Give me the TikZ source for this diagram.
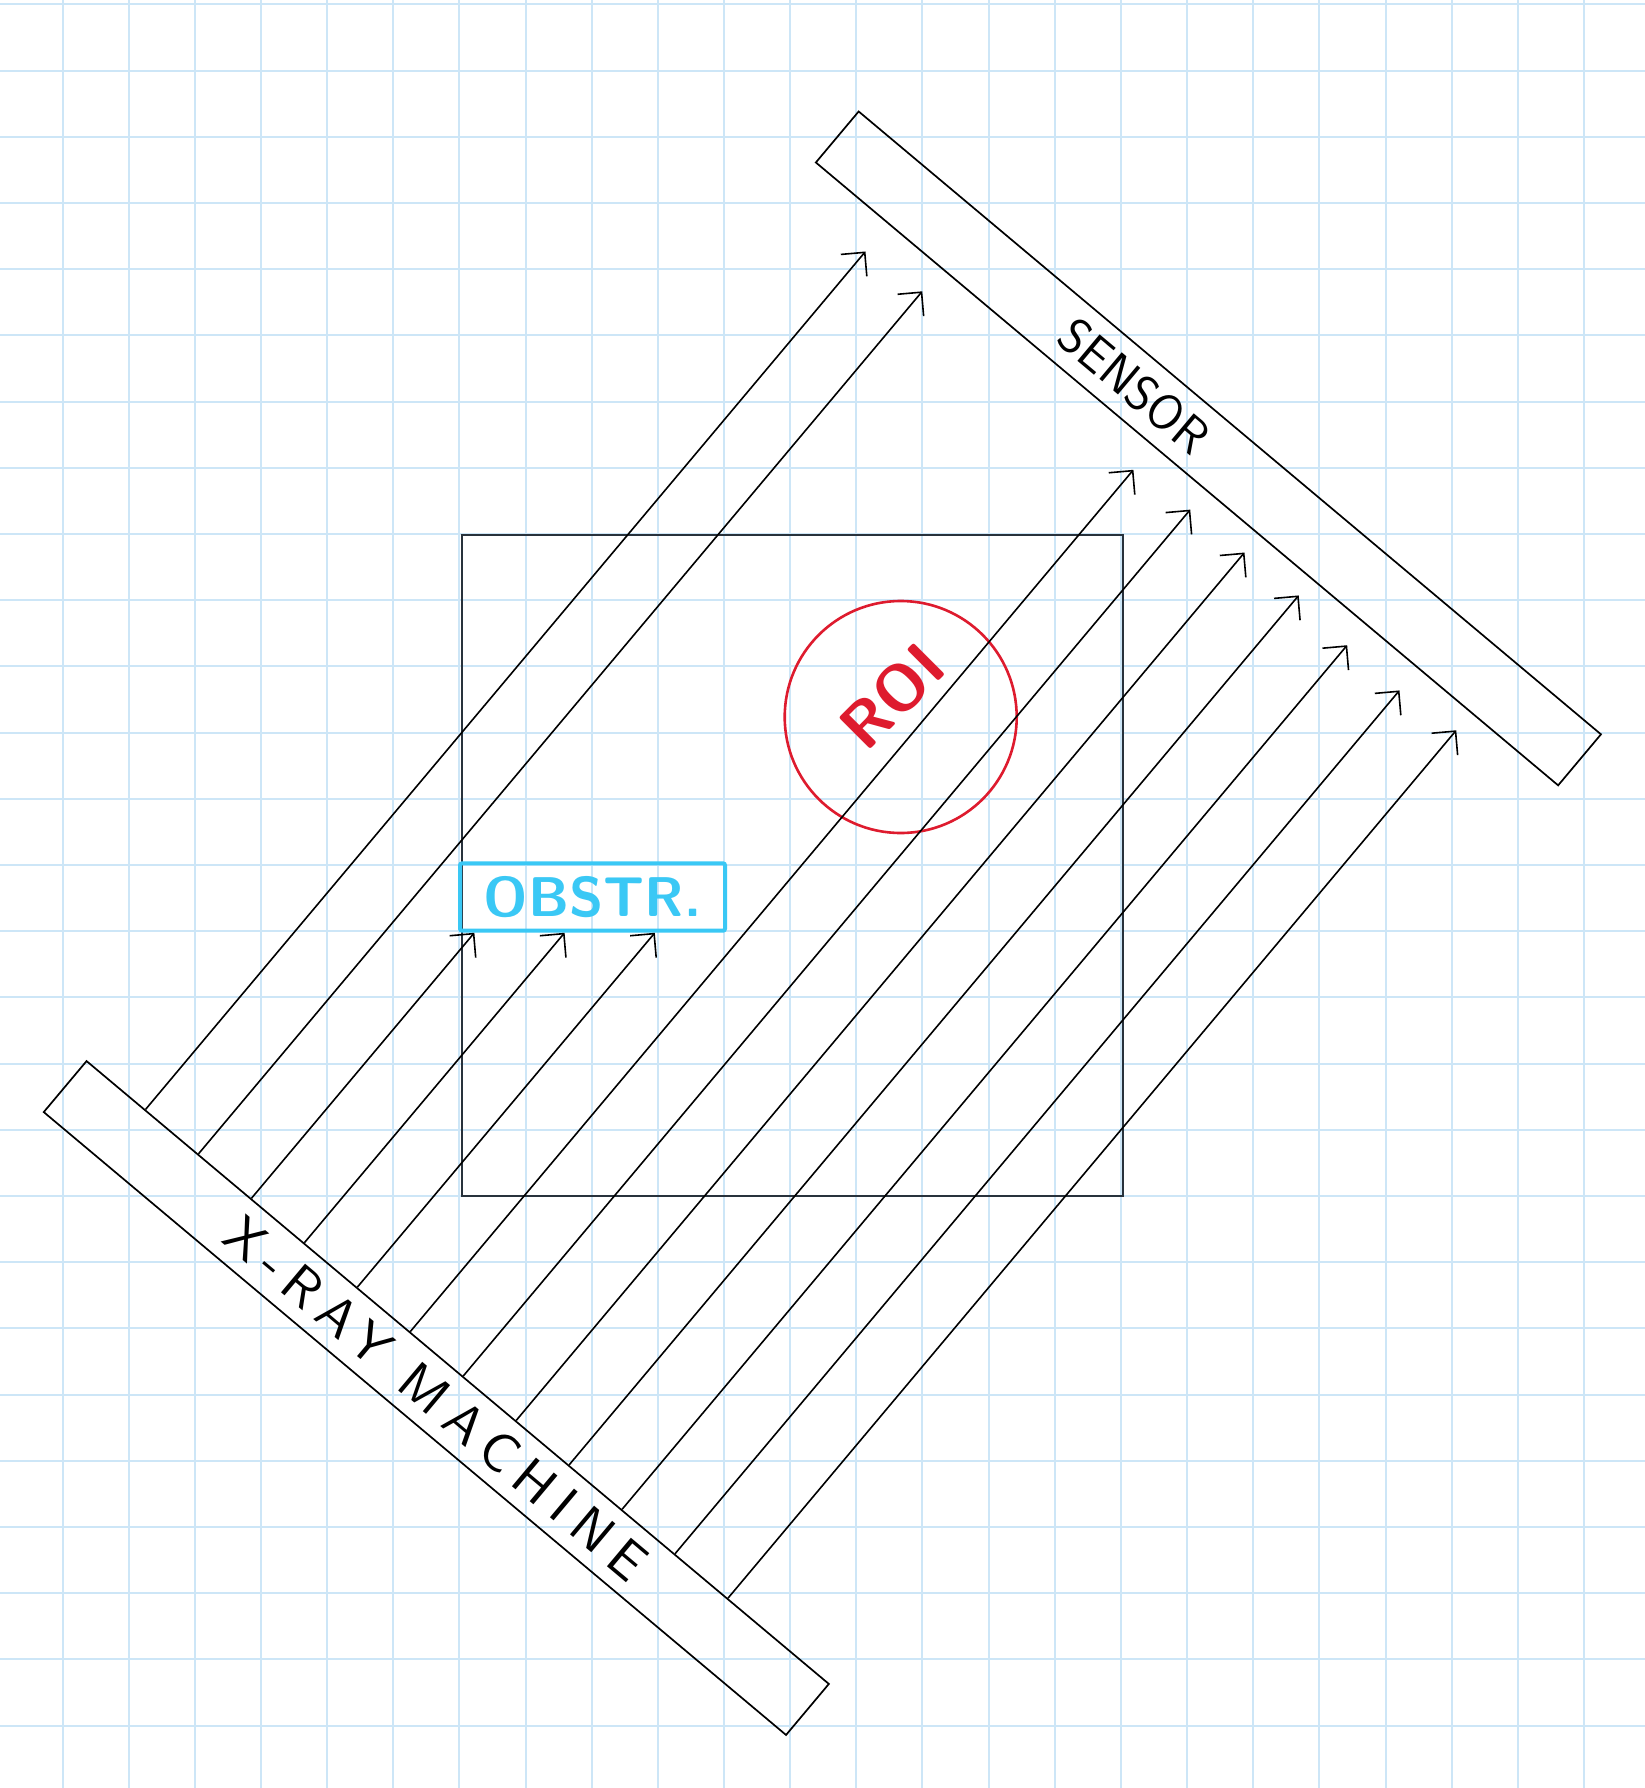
\documentclass[tikz,border=0pt]{standalone}
\usepackage{fontspec}
\usepackage{tikz}
\usetikzlibrary{arrows.meta,calc}

\newfontfamily\xrayfont{lmsans10-regular.otf}[LetterSpace=20]

\definecolor{gridblue}{RGB}{205,230,247}
\definecolor{roired}{RGB}{222,27,46}
\definecolor{obstrblue}{RGB}{58,200,245}
\definecolor{boxgray}{RGB}{40,50,60}

\begin{document}
\begin{tikzpicture}[x=1pt,y=-1pt,
    >={Straight Barb[length=17pt,width=34pt]},
    gridline/.style={gridblue,line width=2pt},
    bar/.style={draw,rotate=-40,minimum width=969pt,minimum height=66.6pt,inner sep=0pt,line width=1.7pt},
    ray/.style={->,line width=1.6pt}]
    \fill[white] (0,0) rectangle (1645,1788);
    \useasboundingbox (0,0) rectangle (1645,1788);

    \foreach \k in {0,...,23}
        \draw[gridline] ({62.5+66.15*\k},0) -- ({62.5+66.15*\k},1788);
    \foreach \k in {0,...,26}
        \draw[gridline] (0,{4.3+66.2*\k}) -- (1645,{4.3+66.2*\k});

    \node[draw=boxgray,line width=2pt,minimum size=661pt,inner sep=0pt] (object) at (792.2,865.9) {};
    \node[bar] (sensor) at (1208.4,448.4) {};
    \node[bar] (xray) at (436.3,1398) {};

    \node[rotate=-40,font=\sffamily\fontsize{50}{60}\selectfont] (sensorlabel)
        at ($(sensor.center)!0.2!(sensor.west)$) {SENSOR};
    \node[rotate=-40,font=\xrayfont\fontsize{54}{60}\selectfont] (xraylabel)
        at (xray.center) {X-RAY MACHINE};

    \node[circle,draw=roired,line width=2.6pt,minimum size=232pt,inner sep=0pt] (roi) at (900.7,717) {};
    \node[text=roired,rotate=45,font=\sffamily\bfseries\fontsize{64}{70}\selectfont] (roilabel)
        at (892,696) {ROI};

    \node[draw=obstrblue,line width=4pt,rounded corners=2pt,minimum width=265pt,minimum height=67.4pt,inner sep=0pt,
        text=obstrblue,font=\sffamily\bfseries\fontsize{56}{60}\selectfont] (obstr)
        at (592.5,897) {OBSTR.};

    \foreach \i/\len in {1/1120,2/1126,3/1128,4/1128,5/1128,6/1125,7/1131,8/1133,9/1135,10/1128,11/1127,12/1133}{
        \pgfmathsetmacro\t{(77+69*(\i-1))/969}
        \coordinate (s\i) at ($(xray.north west)!\t!(xray.north east)$);
        \coordinate (e\i) at ($(s\i)+(-50:\len)$);
    }
    \foreach \i in {1,2,6,7,8,9,10,11,12}
        \draw[ray] (s\i) -- (e\i);
    \foreach \i in {3,4,5}
        \draw[ray] (s\i) -- (intersection cs: first line={(s\i)--(e\i)},
            second line={(obstr.south west)--(obstr.south east)});
\end{tikzpicture}
\end{document}
